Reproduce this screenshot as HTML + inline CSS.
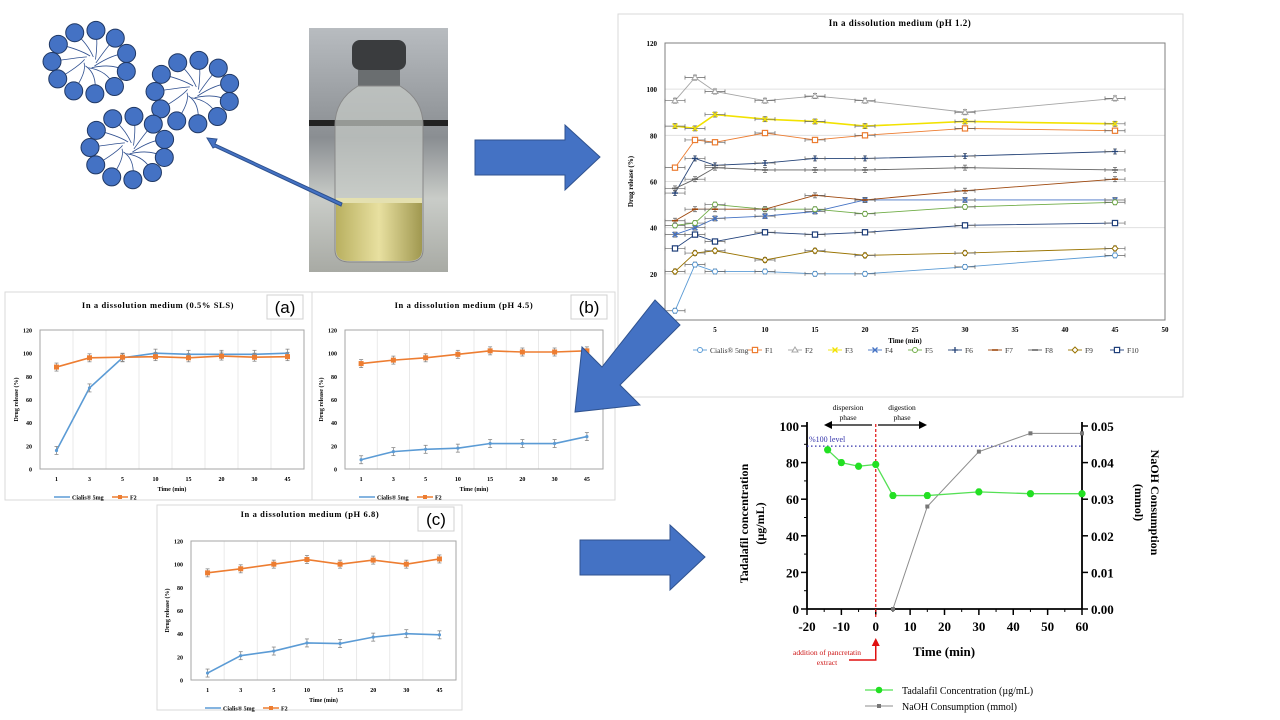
<!DOCTYPE html>
<html><head><meta charset="utf-8">
<style>
html,body{margin:0;padding:0;background:#fff;width:1280px;height:720px;overflow:hidden}
svg{display:block;font-family:"Liberation Serif",serif}
</style></head>
<body>
<svg id="s" width="1280" height="720" viewBox="0 0 1280 720" xmlns="http://www.w3.org/2000/svg">
<defs>
<linearGradient id="bg" x1="0" y1="0" x2="0" y2="1"><stop offset="0" stop-color="#b8bcc0"/><stop offset="0.45" stop-color="#8a8e92"/><stop offset="0.7" stop-color="#c9ccc8"/><stop offset="1" stop-color="#a8aaa4"/></linearGradient>
<linearGradient id="liq" x1="0" y1="0" x2="1" y2="0"><stop offset="0" stop-color="#b9b060"/><stop offset="0.5" stop-color="#e8e0a0"/><stop offset="1" stop-color="#a09850"/></linearGradient>
</defs>
<g id="molecules"></g>
<g>
<rect x="309" y="28" width="139" height="244" fill="url(#bg)"/>
<rect x="309" y="120" width="139" height="6" fill="#222"/>
<rect x="352" y="40" width="54" height="30" rx="8" fill="#3a3c3e"/>
<rect x="358" y="70" width="42" height="16" fill="#6a6e70"/>
<path d="M358 86 Q335 100 335 125 L335 250 Q335 262 350 262 L408 262 Q423 262 423 250 L423 125 Q423 100 400 86 Z" fill="#c8ccc8" fill-opacity="0.7" stroke="#888" stroke-width="1"/>
<path d="M336 200 L422 200 L422 250 Q422 261 408 261 L350 261 Q336 261 336 250 Z" fill="url(#liq)"/>
<rect x="336" y="198" width="86" height="5" fill="#e4e0b0"/>
</g>
<g id="charts"></g>
<g>
<polygon points="475,140 565,140 565,125 600,157 565,190 565,175 475,175" fill="#4472c4" stroke="#2f528f"/>
<polygon points="580,540 670,540 670,525 705,557 670,590 670,575 580,575" fill="#4472c4" stroke="#2f528f"/>
<polygon points="655,300 680,325 620,385 640,405 575,412 582,347 602,367" fill="#4472c4" stroke="#2f528f"/>
<polygon points="342,203 215,144 217,139 207,138 213,148 215,147 341,206" fill="#4472c4" stroke="#2f528f"/>
</g>
</svg>
<script>
// ---------- data ----------
const catLabels = ["1","3","5","10","15","20","30","45"];
const timeNum = [1,3,5,10,15,20,30,45];
const seriesNames = ["Cialis® 5mg","F1","F2","F3","F4","F5","F6","F7","F8","F9","F10"];
const phCialis = [4,24,21,21,20,20,23,28];
const phF1 = [66,78,77,81,78,80,83,82];
const phF2 = [95,105,99,95,97,95,90,96];
const phF3 = [84,83,89,87,86,84,86,85];
const phF4 = [37,40,44,45,47,52,52,52];
const phF5 = [41,42,50,48,48,46,49,51];
const phF6 = [55,70,67,68,70,70,71,73];
const phF7 = [43,48,48,48,54,52,56,61];
const phF8 = [57,61,66,65,65,65,66,65];
const phF9 = [21,29,30,26,30,28,29,31];
const phF10 = [31,37,34,38,37,38,41,42];
const slsCialis = [16,70,96,100,99,99,99,100];
const slsF2 = [88,96,96.5,97,96,97.5,96.5,97];
const p45Cialis = [8,15,17,18,22,22,22,28];
const p45F2 = [91,94,96,99,102,101,101,102];
const p68Cialis = [6,21,25,32,31.5,37,40,39];
const p68F2 = [92.5,96,100,104,100,103.5,100,104.5];
const yTicks = [0,20,40,60,80,100,120];
const xTicksPH = [0,5,10,15,20,25,30,35,40,45,50];
const tadT = [-14,-10,-5,0,5,15,30,45,60];
const tadV = [87,80,78,79,62,62,64,63,63];
const naohT = [5,15,30,45,60];
const naohV = [0,0.028,0.043,0.048,0.048];
const lTicks = [0,20,40,60,80,100];
const rTicks = ["0.00","0.01","0.02","0.03","0.04","0.05"];
const xTicksD = [-20,-10,0,10,20,30,40,50,60];

const NS="http://www.w3.org/2000/svg";
const root=document.getElementById('charts');
function mk(tag,attrs,parent,txt){const e=document.createElementNS(NS,tag);for(const k in attrs)e.setAttribute(k,attrs[k]);if(txt!==undefined)e.textContent=txt;(parent||root).appendChild(e);return e;}

// molecules
(function(){
  const g=document.getElementById('molecules');
  const centers=[[90,62],[193,92],[128,148]];
  centers.forEach(c=>{
    const n=11;
    for(let i=0;i<n;i++){
      const a=i/n*Math.PI*2+0.3;
      const px=c[0]+Math.cos(a)*38, py=c[1]+Math.sin(a)*32;
      const l=mk('path',{d:`M${px} ${py} Q${(px+c[0])/2+5} ${(py+c[1])/2-4} ${c[0]+Math.cos(a+1)*6} ${c[1]+Math.sin(a+1)*6}`,stroke:'#2f4f8f','stroke-width':0.8,fill:'none'},g);
      
      
    }
    for(let i=0;i<n;i++){
      const a=i/n*Math.PI*2+0.3;
      const ci=mk('circle',{cx:c[0]+Math.cos(a)*38,cy:c[1]+Math.sin(a)*32,r:9,fill:'#4472c4',stroke:'#203864','stroke-width':1},g);
      
      
    }
  });
})();

function errbar(g,x,y,h,color){
  mk('line',{x1:x,y1:y-h,x2:x,y2:y+h,stroke:color,'stroke-width':0.8},g);
  mk('line',{x1:x-2,y1:y-h,x2:x+2,y2:y-h,stroke:color,'stroke-width':0.8},g);
  mk('line',{x1:x-2,y1:y+h,x2:x+2,y2:y+h,stroke:color,'stroke-width':0.8},g);
}

// small category charts
function catChart(o){
  const g=mk('g',{});
  
  
  const bx=mk('rect',{x:o.px,y:o.py,width:o.pw,height:o.ph,fill:'#fff',stroke:'#d9d9d9'},g);
  
  
  const t=mk('text',{x:o.tx,y:o.ty,'text-anchor':'middle','font-size':8.5,'font-weight':'bold','letter-spacing':'0.6'},g,o.title);
  
  
  const lb=mk('rect',{x:o.lx,y:o.ly,width:36,height:24,fill:'#fff',stroke:'#d0d0d0'},g);
  
  
  const lt=mk('text',{x:o.lx+18,y:o.ly+18,'text-anchor':'middle','font-size':17,'font-family':'Liberation Sans, sans-serif'},g,o.label);
  
  
  const L=o.l,R=o.r,T=o.t,B=o.b,n=catLabels.length,bw=(R-L)/n;
  const ys=v=>B-(v/120)*(B-T), xs=i=>L+bw*(i+0.5);
  for(let i=1;i<n;i++) mk('line',{x1:L+bw*i,y1:T,x2:L+bw*i,y2:B,stroke:'#e4e4e4','stroke-width':0.8},g);
  mk('rect',{x:L,y:T,width:R-L,height:B-T,fill:'none',stroke:'#a6a6a6'},g);
  yTicks.forEach(v=>{const tt=mk('text',{x:L-8,y:ys(v)+2.5,'text-anchor':'end','font-size':6,'font-weight':'bold'},g,v);});
  catLabels.forEach((c,i)=>{const tt=mk('text',{x:xs(i),y:B+12,'text-anchor':'middle','font-size':6,'font-weight':'bold'},g,c);});
  const yl=mk('text',{transform:`translate(${L-22},${(T+B)/2}) rotate(-90)`,'text-anchor':'middle','font-size':6,'font-weight':'bold'},g,'Drug release (%)');
  
  const xl=mk('text',{x:(L+R)/2,y:B+22,'text-anchor':'middle','font-size':6,'font-weight':'bold'},g,'Time (min)');
  
  [[o.s1,'#5b9bd5','cialis'],[o.s2,'#ed7d31','f2']].forEach(([arr,col,nm])=>{
    const p=mk('polyline',{points:arr.map((v,i)=>xs(i)+','+ys(v)).join(' '),fill:'none',stroke:col,'stroke-width':1.6},g);
    
    arr.forEach((v,i)=>{errbar(g,xs(i),ys(v),4,'#888');
      const m=nm==='f2'?mk('rect',{x:xs(i)-2.5,y:ys(v)-2.5,width:5,height:5,fill:col},g):mk('circle',{cx:xs(i),cy:ys(v),r:1.6,fill:col},g);
      });
  });
  const ly=B+28;
  mk('line',{x1:L+14,y1:ly,x2:L+30,y2:ly,stroke:'#5b9bd5','stroke-width':1.5},g);
  const e1=mk('text',{x:L+32,y:ly+2.5,'font-size':6,'font-weight':'bold'},g,'Cialis® 5mg');
  
  mk('line',{x1:L+72,y1:ly,x2:L+88,y2:ly,stroke:'#ed7d31','stroke-width':1.5},g);
  mk('rect',{x:L+78,y:ly-2,width:4,height:4,fill:'#ed7d31'},g);
  const e2=mk('text',{x:L+90,y:ly+2.5,'font-size':6,'font-weight':'bold'},g,'F2');
  
}
catChart({name:'chart-sls',px:5,py:292,pw:307,ph:208,tx:158,ty:308,title:'In a dissolution medium (0.5% SLS)',lx:267,ly:295,label:'(a)',l:40,r:304,t:330,b:469,s1:slsCialis,s2:slsF2});
catChart({name:'chart-ph45',px:312,py:292,pw:303,ph:208,tx:464,ty:308,title:'In a dissolution medium (pH 4.5)',lx:571,ly:295,label:'(b)',l:345,r:603,t:330,b:469,s1:p45Cialis,s2:p45F2});
catChart({name:'chart-ph68',px:157,py:505,pw:305,ph:205,tx:310,ty:517,title:'In a dissolution medium (pH 6.8)',lx:418,ly:507,label:'(c)',l:191,r:456,t:541,b:680,s1:p68Cialis,s2:p68F2});

// pH 1.2 chart
(function(){
  const g=mk('g',{});
  
  
  mk('rect',{x:618,y:14,width:565,height:383,fill:'#fff',stroke:'#d9d9d9'},g);
  const L=665,R=1165,T=43,B=320;
  const xs=v=>L+v/50*(R-L), ys=v=>B-v/120*(B-T);
  const t=mk('text',{x:900,y:26,'text-anchor':'middle','font-size':9,'font-weight':'bold','letter-spacing':'0.5'},g,'In a dissolution medium (pH 1.2)');
  
  yTicks.forEach(v=>{ if(v>0&&v<120) mk('line',{x1:L,y1:ys(v),x2:R,y2:ys(v),stroke:'#e0e0e0'},g);
    const tt=mk('text',{x:L-8,y:ys(v)+3,'text-anchor':'end','font-size':7,'font-weight':'bold'},g,v);
    });
  mk('rect',{x:L,y:T,width:R-L,height:B-T,fill:'none',stroke:'#7f7f7f'},g);
  xTicksPH.forEach(v=>{ if(v===0)return; const tt=mk('text',{x:xs(v),y:B+12,'text-anchor':'middle','font-size':7,'font-weight':'bold'},g,v);
    });
  const yl=mk('text',{transform:`translate(633,${(T+B)/2}) rotate(-90)`,'text-anchor':'middle','font-size':7,'font-weight':'bold'},g,'Drug release (%)');
  
  const xl=mk('text',{x:(L+R)/2-10,y:343,'text-anchor':'middle','font-size':7,'font-weight':'bold'},g,'Time (min)');
  
  const data=[phCialis,phF1,phF2,phF3,phF4,phF5,phF6,phF7,phF8,phF9,phF10];
  const cols=['#5b9bd5','#ed7d31','#a5a5a5','#f2e200','#4472c4','#70ad47','#264478','#9e480e','#636363','#997300','#1f3f7a'];
  const marks=['o','s','t','x','x','o','+','-','-','d','s'];
  function marker(x,y,k,c){
    let m;
    if(k==='o')m=mk('circle',{cx:x,cy:y,r:2.5,fill:'#fff',stroke:c,'stroke-width':1},g);
    else if(k==='s')m=mk('rect',{x:x-2.6,y:y-2.6,width:5.2,height:5.2,fill:'#fff',stroke:c,'stroke-width':1.2},g);
    else if(k==='t')m=mk('polygon',{points:`${x},${y-3} ${x+3},${y+2} ${x-3},${y+2}`,fill:'#fff',stroke:c},g);
    else if(k==='d')m=mk('polygon',{points:`${x},${y-3} ${x+3},${y} ${x},${y+3} ${x-3},${y}`,fill:'#fff',stroke:c},g);
    else if(k==='x')m=mk('path',{d:`M${x-2.5} ${y-2.5}L${x+2.5} ${y+2.5}M${x+2.5} ${y-2.5}L${x-2.5} ${y+2.5}`,stroke:c,'stroke-width':1.3},g);
    else if(k==='+')m=mk('path',{d:`M${x-3} ${y}L${x+3} ${y}M${x} ${y-3}L${x} ${y+3}`,stroke:c,'stroke-width':1.3},g);
    else m=mk('path',{d:`M${x-3} ${y}L${x+3} ${y}`,stroke:c,'stroke-width':1.6},g);
    
    
  }
  data.forEach((arr,si)=>{
    const p=mk('polyline',{points:arr.map((v,i)=>xs(timeNum[i])+','+ys(v)).join(' '),fill:'none',stroke:cols[si],'stroke-width':si===3?1.6:0.9},g);
    
    
    arr.forEach((v,i)=>{const x=xs(timeNum[i]),y=ys(v);
      mk('line',{x1:x-10,y1:y,x2:x+10,y2:y,stroke:'#666','stroke-width':0.7},g);
      mk('line',{x1:x-10,y1:y-2,x2:x-10,y2:y+2,stroke:'#666','stroke-width':0.7},g);
      mk('line',{x1:x+10,y1:y-2,x2:x+10,y2:y+2,stroke:'#666','stroke-width':0.7},g);
      errbar(g,x,y,2.5,'#666');
      marker(x,y,marks[si],cols[si]);});
  });
  const lx=[693,748,788,828,868,908,948,988,1028,1068,1110];
  seriesNames.forEach((nm,si)=>{
    mk('line',{x1:lx[si],y1:350,x2:lx[si]+14,y2:350,stroke:cols[si],'stroke-width':0.9},g);
    marker(lx[si]+7,350,marks[si],cols[si]);
    const e=mk('text',{x:lx[si]+17,y:353,'font-size':7.5,fill:'#333'},g,nm);
    
    
  });
})();

// digestion chart
(function(){
  const g=mk('g',{});
  
  
  const L=807,R=1082,T=426,B=609;
  const xs=v=>L+(v+20)/80*(R-L), yl=v=>B-v/100*(B-T), yr=v=>B-v/0.05*(B-T);
  mk('line',{x1:L,y1:T-4,x2:L,y2:B,stroke:'#000','stroke-width':1.8},g);
  mk('line',{x1:R,y1:T-4,x2:R,y2:B,stroke:'#000','stroke-width':1.8},g);
  mk('line',{x1:L,y1:B,x2:R,y2:B,stroke:'#000','stroke-width':1.8},g);
  lTicks.forEach(v=>{mk('line',{x1:L-6,y1:yl(v),x2:L,y2:yl(v),stroke:'#000','stroke-width':1.5},g);
    if(v<100)mk('line',{x1:L-3,y1:yl(v+10),x2:L,y2:yl(v+10),stroke:'#000','stroke-width':1},g);
    const tt=mk('text',{x:L-8,y:yl(v)+5,'text-anchor':'end','font-size':13,'font-weight':'bold'},g,v);
    });
  rTicks.forEach((s,i)=>{const y=yr(i*0.01);mk('line',{x1:R,y1:y,x2:R+6,y2:y,stroke:'#000','stroke-width':1.5},g);
    const tt=mk('text',{x:R+9,y:y+5,'font-size':13,'font-weight':'bold'},g,s);
    });
  xTicksD.forEach(v=>{mk('line',{x1:xs(v),y1:B,x2:xs(v),y2:B+6,stroke:'#000','stroke-width':1.5},g);
    if(v<60)mk('line',{x1:xs(v+5),y1:B,x2:xs(v+5),y2:B+3,stroke:'#000','stroke-width':1},g);
    const tt=mk('text',{x:xs(v),y:B+22,'text-anchor':'middle','font-size':13,'font-weight':'bold'},g,v);
    });
  const xt=mk('text',{x:944,y:656,'text-anchor':'middle','font-size':13,'font-weight':'bold'},g,'Time (min)');
  
  const ylt=mk('text',{transform:`translate(748,${(T+B)/2+6}) rotate(-90)`,'text-anchor':'middle','font-size':12,'font-weight':'bold'},g,'Tadalafil concentration');
  
  mk('text',{transform:`translate(764,${(T+B)/2+6}) rotate(-90)`,'text-anchor':'middle','font-size':12,'font-weight':'bold'},g,'(µg/mL)');
  const yrt=mk('text',{transform:`translate(1151,${(T+B)/2-15}) rotate(90)`,'text-anchor':'middle','font-size':12,'font-weight':'bold'},g,'NaOH Consumption');
  
  mk('text',{transform:`translate(1135,${(T+B)/2-15}) rotate(90)`,'text-anchor':'middle','font-size':12,'font-weight':'bold'},g,'(mmol)');
  const lv=mk('line',{x1:L,y1:yl(89),x2:R,y2:yl(89),stroke:'#3333aa','stroke-width':1.2,'stroke-dasharray':'1.5 2.5'},g);
  
  mk('text',{x:L+2,y:yl(89)-4,'font-size':8,fill:'#3333aa'},g,'%100 level');
  const dv=mk('line',{x1:xs(0),y1:T-2,x2:xs(0),y2:B+10,stroke:'#e01010','stroke-width':1.2,'stroke-dasharray':'3 2'},g);
  
  mk('path',{d:`M${xs(0)} 641 L${xs(0)} 660 L849 660`,stroke:'#e01010','stroke-width':1.5,fill:'none'},g);
  mk('polygon',{points:`${xs(0)},638 ${xs(0)-4},646 ${xs(0)+4},646`,fill:'#e01010'},g);
  mk('text',{x:827,y:655,'text-anchor':'middle','font-size':7.5,fill:'#cc1111'},g,'addition of pancretatin');
  mk('text',{x:827,y:665,'text-anchor':'middle','font-size':7.5,fill:'#cc1111'},g,'extract');
  mk('text',{x:848,y:410,'text-anchor':'middle','font-size':7.5},g,'dispersion');
  mk('text',{x:848,y:420,'text-anchor':'middle','font-size':7.5},g,'phase');
  mk('text',{x:902,y:410,'text-anchor':'middle','font-size':7.5},g,'digestion');
  mk('text',{x:902,y:420,'text-anchor':'middle','font-size':7.5},g,'phase');
  mk('line',{x1:872,y1:425,x2:830,y2:425,stroke:'#000','stroke-width':1.2},g);
  mk('polygon',{points:'824,425 832,421 832,429',fill:'#000'},g);
  mk('line',{x1:878,y1:425,x2:920,y2:425,stroke:'#000','stroke-width':1.2},g);
  mk('polygon',{points:'927,425 919,421 919,429',fill:'#000'},g);
  const pn=mk('polyline',{points:naohT.map((t,i)=>xs(t)+','+yr(naohV[i])).join(' '),fill:'none',stroke:'#8c8c8c','stroke-width':1},g);
  
  naohT.forEach((t,i)=>{const m=mk('rect',{x:xs(t)-2,y:yr(naohV[i])-2,width:4,height:4,fill:'#777'},g);
    });
  const pt=mk('polyline',{points:tadT.map((t,i)=>xs(t)+','+yl(tadV[i])).join(' '),fill:'none',stroke:'#55e055','stroke-width':1.3},g);
  
  tadT.forEach((t,i)=>{errbar(g,xs(t),yl(tadV[i]),3,'#55e055');
    const m=mk('circle',{cx:xs(t),cy:yl(tadV[i]),r:3.6,fill:'#22e022'},g);
    });
  mk('line',{x1:865,y1:690,x2:893,y2:690,stroke:'#55e055','stroke-width':1.3},g);
  mk('circle',{cx:879,cy:690,r:3.3,fill:'#22e022'},g);
  const l1=mk('text',{x:902,y:694,'font-size':10},g,'Tadalafil Concentration (µg/mL)');
  
  mk('line',{x1:865,y1:706,x2:893,y2:706,stroke:'#8c8c8c','stroke-width':1},g);
  mk('rect',{x:877,y:704,width:4,height:4,fill:'#777'},g);
  const l2=mk('text',{x:902,y:710,'font-size':10},g,'NaOH Consumption (mmol)');
  
})();
</script>
</body></html>
